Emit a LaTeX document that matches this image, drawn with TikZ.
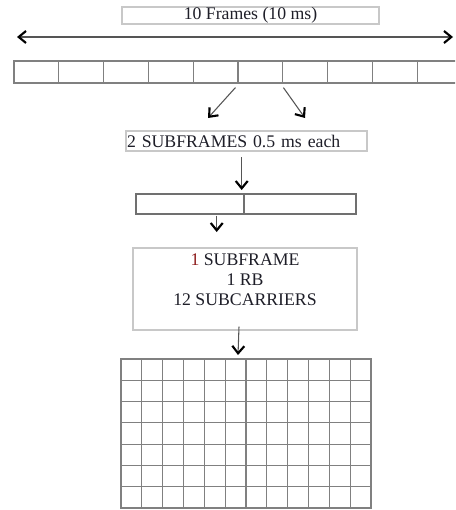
\documentclass[tikz,border=0pt]{standalone}
\usepackage{fontspec}
\setmainfont{Liberation Serif}
\usetikzlibrary{arrows.meta,calc}
\definecolor{txt}{HTML}{1E1E28}
\definecolor{redone}{HTML}{8E1E1E}
\definecolor{lightline}{HTML}{C8C8C8}
\definecolor{midline}{HTML}{707070}
\definecolor{gridline}{HTML}{808080}
\definecolor{shaft}{HTML}{555555}
\tikzset{
  every node/.style={font=\fontsize{13.3}{15}\selectfont, text=txt},
  lightbox/.style={draw=lightline, line width=0.8pt, rectangle, inner sep=0pt},
  cellbox/.style={draw=gridline, line width=0.9pt, rectangle, inner sep=0pt, minimum width=33.6pt, minimum height=16.5pt},
  halfbox/.style={draw=midline, line width=0.8pt, rectangle, inner sep=0pt, minimum height=15pt},
  tipv/.style={Straight Barb[length=5.5pt,width=9pt,line width=1.6pt,color=black]},
  arr/.style={draw=shaft, line width=0.8pt, -{Straight Barb[length=5.5pt,width=9pt,line width=1.6pt,color=black]}},
  darr/.style={draw=shaft, line width=0.8pt, {Straight Barb[length=5.5pt,width=9pt,line width=1.6pt,color=black]}-{Straight Barb[length=5.5pt,width=9pt,line width=1.6pt,color=black]}}
}
\begin{document}
\begin{tikzpicture}[x=0.75pt,y=-0.75pt]
\useasboundingbox (0,0) rectangle (455,510);
\clip (0,0) rectangle (455,510);
% title
\node[lightbox, minimum width=192.75pt, minimum height=12.75pt] (title) at (250.5,15.5) {10 Frames (10 ms)};
% double arrow
\coordinate (L) at (17,37);
\coordinate (R) at (453,37);
\draw[darr] (L) -- (R);
% frames bar
\foreach \k in {1,...,10} {
  \node[cellbox] (f\k) at ({14+(\k-0.5)*44.8},72) {};
}
% arrows to subframes box
\coordinate (a1e) at (208,118);
\coordinate (a2e) at (305,118);
\draw[arr] ($(f6.south west)+(-2,4)$) -- (a1e);
\draw[arr] ($(f6.south east)+(0,4)$) -- (a2e);
% 2 subframes box
\node[lightbox, minimum width=180.75pt, minimum height=15pt, text width=179.25pt, align=left, inner xsep=0.75pt] (sub) at (246.5,141) {2 SUBFRAMES 0.5 ms each};
% half bar
\node[halfbox, minimum width=81pt] (s1) at (190,204) {};
\node[halfbox, minimum width=84pt] (s2) at (300,204) {};
\coordinate (a3e) at (241.7,190);
\draw[arr] (241.7,157) -- (a3e);
% big box
\node[lightbox] (rb) at (245,289) {\parbox[c][61.5pt][t]{168pt}{\centering\vspace*{4.2pt}\textcolor{redone}{1} SUBFRAME\\1 RB\\12 SUBCARRIERS}};
\coordinate (a4e) at (216.7,232);
\draw[arr] ($(s1.south)+(26.7,1)$) -- (a4e);
% grid
\node[draw=gridline, line width=0.9pt, rectangle, inner sep=0pt, minimum width=187.5pt, minimum height=111.75pt] (grid) at (246,433.5) {};
\foreach \i in {1,...,11} {
  \draw[gridline, line width=0.9pt] ({121+\i*250/12},359) -- ({121+\i*250/12},508);
}
\foreach \j in {1,...,6} {
  \draw[gridline, line width=0.9pt] (121,{359+\j*149/7}) -- (371,{359+\j*149/7});
}
\coordinate (a5e) at (238,355);
\draw[arr] ($(rb.south)+(-6,-4)$) -- (a5e);
\end{tikzpicture}
\end{document}
